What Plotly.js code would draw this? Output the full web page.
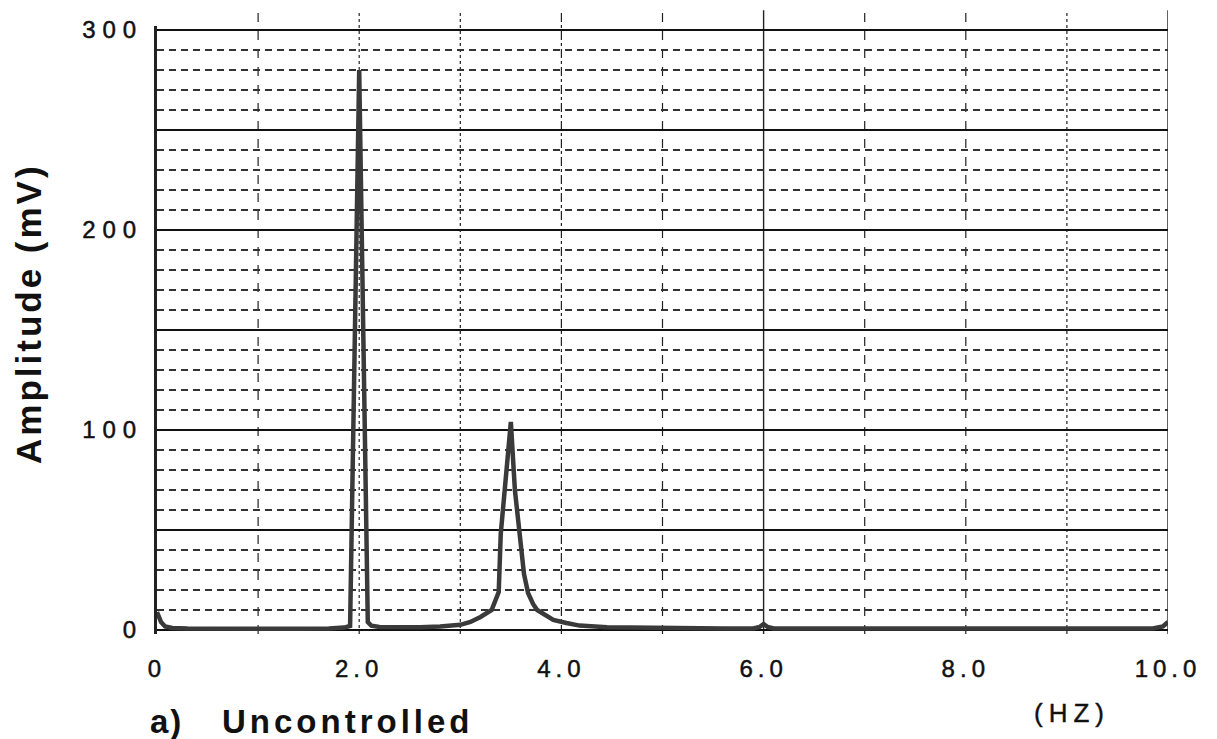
<!DOCTYPE html>
<html>
<head>
<meta charset="utf-8">
<script src="https://cdn.plot.ly/plotly-3.0.1.min.js"></script>
<style>
  html, body { margin: 0; padding: 0; background: #fff; }
  #chart { width: 1217px; height: 739px; }
  .xtick text { letter-spacing: 5px; stroke: #111; stroke-width: 0.5px; }
  .ytick text { letter-spacing: 7px; stroke: #111; stroke-width: 0.5px; }
  g.annotation[data-index="0"] text { letter-spacing: 3px; }
  g.annotation[data-index="1"] text { letter-spacing: 2px; }
  g.annotation[data-index="2"] text { letter-spacing: 4px; }
  g.annotation[data-index="3"] text { letter-spacing: 6px; stroke: #111; stroke-width: 0.4px; }
</style>
</head>
<body>
<div id="chart"></div>
<script>
// Frequency (Hz) and amplitude (mV)
const freqHz = [0, 0.04, 0.08, 0.15, 0.3, 0.6, 1.0, 1.4, 1.7, 1.85, 1.91, 2.0, 2.085, 2.12, 2.2, 2.4,
  2.6, 2.8, 3.0, 3.1, 3.2, 3.31, 3.38, 3.40, 3.44, 3.50, 3.54, 3.59, 3.63, 3.67, 3.72, 3.76, 3.85,
  3.92, 4.05, 4.18, 4.45, 4.8, 5.2, 5.6, 5.9, 5.96, 6.0, 6.04, 6.1, 7.0, 8.0, 9.0, 9.85, 9.95, 10.0];
const amplitudeMv = [9, 4, 1.8, 1.0, 0.7, 0.6, 0.6, 0.6, 0.8, 1.2, 2, 280, 4, 2.2, 1.5, 1.2,
  1.4, 1.8, 2.6, 4, 6.5, 10, 19, 48, 70, 104, 70, 48, 28, 18.5, 13, 10, 7,
  5, 3.5, 2.2, 1.4, 1.1, 0.9, 0.8, 0.8, 1.5, 3, 1.5, 0.8, 0.7, 0.7, 0.7, 0.8, 1.8, 4];

const xTickVals = [0, 2, 4, 6, 8, 10];
const xTickText = ['0', '2.0', '4.0', '6.0', '8.0', '10.0'];
const yTickVals = [0, 50, 100, 150, 200, 250, 300];
const yTickText = ['0', '', '100', '', '200', '', '300'];
const gridFreqs = [1, 2, 3, 4, 5, 6, 7, 8, 9, 10];

const yTitle = 'Amplitude (mV)';
const panelLabel = 'a)';
const panelName = 'Uncontrolled';
const unitLabel = '(HZ)';

const gridDash = ['dash', 'dot', 'dot', 'dashdot', 'dash', 'solid', 'dash', 'dash', 'dot', 'solid'];

const shapes = gridFreqs.map((f, i) => ({
  type: 'line', xref: 'x', yref: 'paper', x0: f, x1: f, y0: 0, y1: 1.026,
  layer: 'below',
  line: { color: '#222', width: gridDash[i] === 'solid' ? 1.4 : 1.2, dash: gridDash[i] }
}));

const trace = {
  x: freqHz, y: amplitudeMv, type: 'scatter', mode: 'lines',
  line: { color: '#3a3a3a', width: 4.5, shape: 'linear' },
  hoverinfo: 'x+y'
};

const tickFont = { family: 'Liberation Sans, Arial, sans-serif', size: 24, color: '#111' };
const boldFont = { family: 'Liberation Sans, Arial, sans-serif', weight: 700, color: '#111' };

const layout = {
  width: 1217, height: 739,
  margin: { l: 157, r: 49, t: 26, b: 105, pad: 0 },
  paper_bgcolor: '#fff', plot_bgcolor: '#fff',
  showlegend: false,
  xaxis: {
    range: [0, 10], tickmode: 'array', tickvals: xTickVals, ticktext: xTickText,
    ticks: '', showgrid: false, zeroline: false, showline: false,
    tickfont: tickFont, ticklabelstandoff: 18, fixedrange: true
  },
  yaxis: {
    range: [-2, 302], tickmode: 'array', tickvals: yTickVals, ticktext: yTickText,
    ticks: '', showgrid: true, gridcolor: '#111', gridwidth: 1.8,
    zeroline: false, showline: true, linecolor: '#222', linewidth: 3,
    tickfont: tickFont, ticklabelstandoff: 6, fixedrange: true,
    minor: { tickmode: 'linear', tick0: 0, dtick: 10, showgrid: true,
             gridcolor: '#333', gridwidth: 1.2, griddash: '7px,5px', ticks: '' }
  },
  shapes: shapes,
  annotations: [
    { text: yTitle, xref: 'paper', yref: 'paper', x: (28 - 157) / 1011, y: (634 - 314) / 608,
      xanchor: 'center', yanchor: 'middle', textangle: -90, showarrow: false,
      font: Object.assign({ size: 35 }, boldFont) },
    { text: panelLabel, xref: 'paper', yref: 'paper', x: (150 - 157) / 1011, y: (634 - 721) / 608,
      xanchor: 'left', yanchor: 'middle', showarrow: false,
      font: Object.assign({ size: 33 }, boldFont) },
    { text: panelName, xref: 'paper', yref: 'paper', x: (244 - 157) / 1011, y: (634 - 721) / 608,
      xanchor: 'left', yanchor: 'middle', showarrow: false,
      font: Object.assign({ size: 33 }, boldFont) },
    { text: unitLabel, xref: 'paper', yref: 'paper', x: (1072 - 157) / 1011, y: (634 - 713) / 608,
      xanchor: 'center', yanchor: 'middle', showarrow: false,
      font: { family: 'Liberation Sans, Arial, sans-serif', size: 26, color: '#111' } }
  ]
};

Plotly.newPlot('chart', [trace], layout, { displayModeBar: false, staticPlot: true });
</script>
</body>
</html>
